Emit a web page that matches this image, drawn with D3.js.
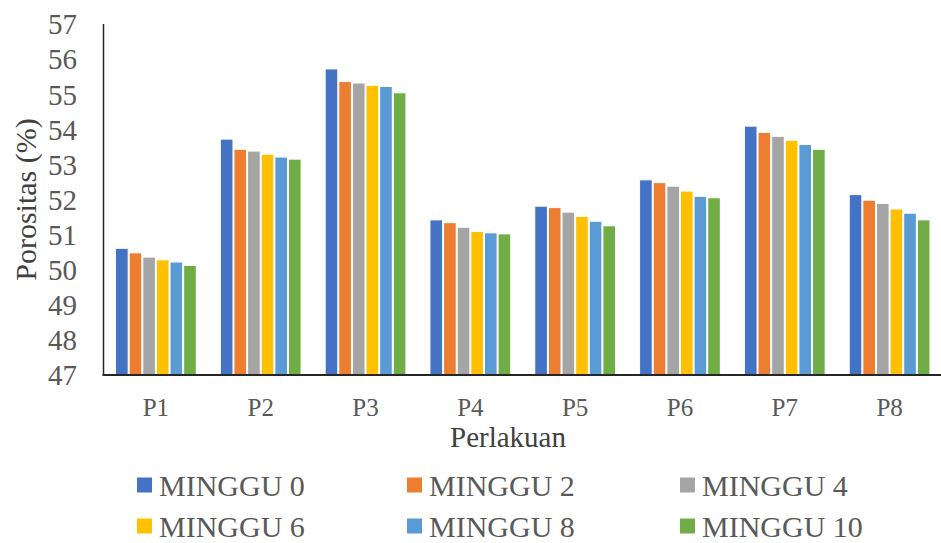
<!DOCTYPE html>
<html>
<head>
<meta charset="utf-8">
<script src="https://cdnjs.cloudflare.com/ajax/libs/d3/7.8.5/d3.min.js"></script>
<style>
  body { margin: 0; background: #fff; }
</style>
</head>
<body>
<svg id="chart" width="941" height="543"></svg>
<script>
// treatments on the x axis
const categories = ["P1", "P2", "P3", "P4", "P5", "P6", "P7", "P8"];
// one series per week
const seriesNames = ["MINGGU 0", "MINGGU 2", "MINGGU 4", "MINGGU 6", "MINGGU 8", "MINGGU 10"];
const seriesColors = ["#4472C4", "#ED7D31", "#A5A5A5", "#FFC000", "#5B9BD5", "#70AD47"];

// porosity values (%), one array per week
const minggu0  = [50.61, 53.72, 55.72, 51.42, 51.81, 52.56, 54.09, 52.14];
const minggu2  = [50.48, 53.43, 55.36, 51.34, 51.77, 52.48, 53.91, 51.98];
const minggu4  = [50.36, 53.38, 55.32, 51.21, 51.64, 52.38, 53.80, 51.89];
const minggu6  = [50.28, 53.29, 55.25, 51.09, 51.52, 52.24, 53.69, 51.73];
const minggu8  = [50.22, 53.21, 55.22, 51.05, 51.38, 52.09, 53.57, 51.61];
const minggu10 = [50.12, 53.15, 55.04, 51.02, 51.25, 52.05, 53.43, 51.42];

const yTicks = [47, 48, 49, 50, 51, 52, 53, 54, 55, 56, 57];

const seriesValues = [minggu0, minggu2, minggu4, minggu6, minggu8, minggu10];

const FONT = "'Liberation Serif', 'Times New Roman', serif";
const TEXT_COLOR = "#595959";
const TITLE_COLOR = "#404040";

const svg = d3.select("#chart");

const plot = { left: 103.5, right: 942, top: 24, bottom: 375 };

let x0 = d3.scaleBand()
    .domain(categories)
    .range([plot.left, plot.right])
    .paddingInner(0.22)
    .paddingOuter(0.11);

let x1 = d3.scaleBand()
    .domain(d3.range(seriesNames.length))
    .range([0, x0.bandwidth()])
    .padding(0);

let y = d3.scaleLinear()
    .domain([47, 57])
    .range([plot.bottom, plot.top]);

// bars
let groups = svg.append("g").classed("bars", true)
    .selectAll("g")
    .data(categories)
    .enter().append("g")
    .attr("transform", d => "translate(" + x0(d) + ",0)");

groups.selectAll("rect")
    .data((d, i) => seriesValues.map((vals, s) => ({ s: s, v: vals[i] })))
    .enter().append("rect")
    .attr("x", d => x1(d.s) + 0.5)
    .attr("width", x1.bandwidth() - 1)
    .attr("y", d => y(d.v))
    .attr("height", d => y(47) - y(d.v))
    .attr("fill", d => seriesColors[d.s])
    .attr("stroke", "#fff")
    .attr("stroke-width", 1);

// y axis
let yAxis = svg.append("g")
    .attr("transform", "translate(" + 77 + ",0)")
    .call(d3.axisLeft(y).tickValues(yTicks).tickSize(0).tickPadding(0).tickFormat(d3.format("d")));
yAxis.select(".domain").remove();
yAxis.selectAll("text")
    .style("font-family", FONT)
    .style("font-size", "29px")
    .style("fill", TEXT_COLOR)
    .attr("dy", "0.34em")
    .attr("text-anchor", "end");

svg.append("line")
    .attr("x1", plot.left).attr("x2", plot.left)
    .attr("y1", plot.top).attr("y2", plot.bottom)
    .attr("stroke", "#262626").attr("stroke-width", 1.5);

// x axis
let xAxis = svg.append("g")
    .attr("transform", "translate(0," + plot.bottom + ")")
    .call(d3.axisBottom(x0).tickSize(0).tickPadding(0));
xAxis.select(".domain").remove();
xAxis.selectAll("text")
    .style("font-family", FONT)
    .style("font-size", "25px")
    .style("fill", TEXT_COLOR)
    .attr("dy", null)
    .attr("y", 41);

svg.append("line")
    .attr("x1", plot.left - 1).attr("x2", 941)
    .attr("y1", plot.bottom).attr("y2", plot.bottom)
    .attr("stroke", "#262626").attr("stroke-width", 2);

// axis titles
svg.append("text")
    .attr("transform", "translate(36," + ((plot.top + plot.bottom) / 2) + ") rotate(-90)")
    .attr("text-anchor", "middle")
    .style("font-family", FONT)
    .style("font-size", "30px")
    .style("fill", TITLE_COLOR)
    .text("Porositas (%)");

svg.append("text")
    .attr("x", 508)
    .attr("y", 447)
    .attr("text-anchor", "middle")
    .style("font-family", FONT)
    .style("font-size", "29px")
    .style("fill", TITLE_COLOR)
    .text("Perlakuan");

// legend: 3 columns, 2 rows
let legendX = [137, 407, 680];
let legendY = [485, 526];
let legend = svg.append("g").classed("legend", true)
    .selectAll("g")
    .data(seriesNames)
    .enter().append("g")
    .attr("transform", (d, i) => "translate(" + legendX[i % 3] + "," + legendY[Math.floor(i / 3)] + ")");

legend.append("rect")
    .attr("x", 0).attr("y", -7.5)
    .attr("width", 15).attr("height", 15)
    .attr("fill", (d, i) => seriesColors[i]);

legend.append("text")
    .attr("x", 22)
    .attr("y", 11)
    .style("font-family", FONT)
    .style("font-size", "30px")
    .style("fill", TEXT_COLOR)
    .text(d => d);
</script>
</body>
</html>
